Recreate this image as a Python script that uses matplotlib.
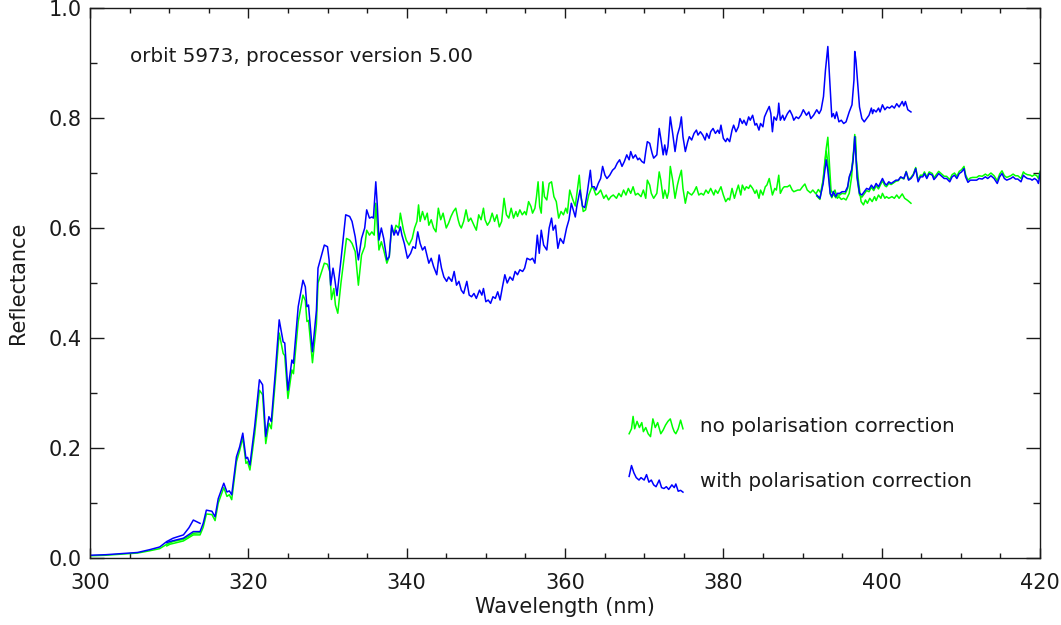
import numpy as np
import matplotlib
matplotlib.use("Agg")
import matplotlib.pyplot as plt
from matplotlib.ticker import MultipleLocator

# short channel at the start (300 - 314 nm)
wl_a = [300, 302, 304, 306, 307.5, 308.8, 309.7, 310.5, 311.8, 312.5, 313.05, 313.9]
blue_a = [0.005, 0.006, 0.008, 0.010, 0.015, 0.020, 0.030, 0.036, 0.042, 0.055, 0.069, 0.063]
green_a = [0.004, 0.005, 0.007, 0.009, 0.013, 0.017, 0.025, 0.030, 0.034, 0.040, 0.045, 0.046]

# main channel, with polarisation correction (309.7 - 403.7 nm)
wl_blue_b = [
    309.7, 310.1, 311.8, 313.05, 313.9, 314.3, 314.7, 315.4, 315.8, 316.2, 316.9, 317.3, 317.6, 317.9,
    318.5, 318.9, 319.3, 319.7, 319.9, 320.2, 320.8, 321.4, 321.8, 322.2, 322.6, 322.9, 323.4, 323.9,
    324.4, 324.6, 325.0, 325.5, 325.7, 326.3, 326.9, 327.2, 327.4, 327.6, 328.1, 328.6, 328.8, 329.6,
    330.0, 330.2, 330.4, 330.7, 330.9, 331.2, 331.7, 332.3, 332.8, 333.1, 333.5, 333.9, 334.3, 334.7,
    334.95, 335.3, 335.6, 335.8, 336.1, 336.3, 336.5, 336.8, 337.1, 337.5, 337.8, 338.1, 338.4, 338.65,
    338.9, 339.2, 339.4, 339.7, 340.1, 340.5, 340.8, 341.1, 341.4, 341.7, 342.0, 342.3, 342.5, 342.8,
    343.1, 343.4, 343.8, 344.1, 344.4, 344.7, 345.05, 345.3, 345.7, 346.0, 346.3, 346.6, 346.9, 347.2,
    347.6, 347.9, 348.2, 348.5, 348.8, 349.2, 349.5, 349.7, 350.0, 350.3, 350.6, 350.9, 351.2, 351.5,
    351.8, 352.1, 352.4, 352.7, 353.05, 353.4, 353.7, 354.0, 354.3, 354.65, 354.9, 355.2, 355.6, 355.9,
    356.2, 356.5, 356.75, 357.0, 357.3, 357.7, 358.0, 358.3, 358.5, 358.8, 359.1, 359.4, 359.8, 360.2,
    360.5, 360.8, 361.3, 361.5, 361.9, 362.2, 362.5, 362.8, 363.2, 363.4, 363.7, 363.9, 364.2, 364.5,
    364.75, 365.05, 365.3, 365.65, 366.0, 366.3, 366.6, 366.9, 367.2, 367.5, 367.8, 368.1, 368.3, 368.6,
    368.9, 369.2, 369.4, 369.7, 370.0, 370.2, 370.4, 370.7, 371.0, 371.2, 371.6, 371.9, 372.1, 372.4,
    372.6, 372.8, 373.0, 373.3, 373.6, 373.9, 374.2, 374.5, 374.7, 374.9, 375.2, 375.5, 375.7, 376.0,
    376.3, 376.6, 376.8, 377.1, 377.4, 377.7, 377.9, 378.2, 378.4, 378.7, 379.0, 379.3, 379.5, 379.7,
    380.0, 380.3, 380.5, 380.8, 381.1, 381.3, 381.6, 381.9, 382.1, 382.4, 382.6, 382.9, 383.2, 383.4,
    383.7, 384.0, 384.2, 384.5, 384.7, 385.0, 385.2, 385.5, 385.8, 386.0, 386.2, 386.4, 386.7, 386.9,
    387.0, 387.2, 387.5, 387.7, 388.1, 388.4, 388.7, 388.9, 389.2, 389.5, 389.8, 390.1, 390.5, 390.8,
    391.05, 391.4, 391.8, 392.1, 392.35, 392.65, 392.9, 393.2, 393.3, 393.5, 393.7, 393.9, 394.1, 394.3,
    394.6, 394.9, 395.2, 395.5, 395.9, 396.25, 396.5, 396.6, 396.75, 397.0, 397.2, 397.5, 397.8, 398.1,
    398.4, 398.7, 398.85, 399.0, 399.3, 399.6, 399.8, 400.1, 400.4, 400.7, 401.0, 401.3, 401.6, 401.9,
    402.2, 402.6, 402.8, 403.0, 403.3, 403.7]
blue_b = [
    0.028, 0.030, 0.036, 0.048, 0.048, 0.063, 0.087, 0.085, 0.075, 0.108, 0.136, 0.120, 0.122, 0.115,
    0.184, 0.202, 0.227, 0.181, 0.183, 0.169, 0.239, 0.324, 0.315, 0.221, 0.257, 0.248, 0.336, 0.433,
    0.393, 0.391, 0.305, 0.360, 0.354, 0.457, 0.505, 0.493, 0.457, 0.460, 0.375, 0.450, 0.527, 0.569,
    0.566, 0.542, 0.496, 0.527, 0.509, 0.477, 0.542, 0.624, 0.621, 0.612, 0.584, 0.542, 0.581, 0.600,
    0.633, 0.618, 0.620, 0.618, 0.684, 0.639, 0.578, 0.600, 0.581, 0.542, 0.548, 0.605, 0.587, 0.596,
    0.587, 0.602, 0.587, 0.572, 0.545, 0.554, 0.566, 0.563, 0.593, 0.572, 0.560, 0.566, 0.554, 0.536,
    0.545, 0.530, 0.515, 0.551, 0.527, 0.511, 0.503, 0.511, 0.503, 0.521, 0.496, 0.503, 0.487, 0.481,
    0.503, 0.478, 0.475, 0.481, 0.472, 0.487, 0.478, 0.490, 0.466, 0.469, 0.463, 0.475, 0.472, 0.484,
    0.469, 0.493, 0.515, 0.500, 0.511, 0.505, 0.521, 0.515, 0.524, 0.521, 0.527, 0.545, 0.542, 0.545,
    0.536, 0.587, 0.554, 0.596, 0.569, 0.560, 0.600, 0.618, 0.596, 0.605, 0.563, 0.581, 0.572, 0.600,
    0.615, 0.645, 0.620, 0.640, 0.669, 0.640, 0.637, 0.663, 0.705, 0.675, 0.675, 0.669, 0.681, 0.690,
    0.712, 0.696, 0.690, 0.696, 0.705, 0.709, 0.718, 0.724, 0.712, 0.721, 0.733, 0.724, 0.739, 0.727,
    0.733, 0.724, 0.727, 0.721, 0.718, 0.739, 0.757, 0.754, 0.736, 0.727, 0.733, 0.781, 0.763, 0.733,
    0.751, 0.733, 0.748, 0.802, 0.772, 0.739, 0.769, 0.784, 0.802, 0.766, 0.739, 0.757, 0.766, 0.760,
    0.772, 0.778, 0.769, 0.775, 0.769, 0.760, 0.772, 0.763, 0.775, 0.781, 0.772, 0.778, 0.772, 0.787,
    0.763, 0.757, 0.763, 0.757, 0.778, 0.787, 0.775, 0.784, 0.799, 0.790, 0.796, 0.787, 0.802, 0.796,
    0.805, 0.787, 0.790, 0.778, 0.790, 0.784, 0.802, 0.812, 0.821, 0.808, 0.775, 0.802, 0.796, 0.808,
    0.827, 0.796, 0.805, 0.796, 0.808, 0.814, 0.805, 0.796, 0.802, 0.799, 0.805, 0.815, 0.805, 0.811,
    0.799, 0.805, 0.815, 0.808, 0.815, 0.839, 0.887, 0.930, 0.905, 0.857, 0.802, 0.808, 0.799, 0.811,
    0.793, 0.796, 0.790, 0.793, 0.811, 0.824, 0.869, 0.921, 0.905, 0.857, 0.820, 0.799, 0.793, 0.799,
    0.805, 0.818, 0.808, 0.815, 0.811, 0.818, 0.811, 0.824, 0.815, 0.820, 0.818, 0.822, 0.818, 0.826,
    0.820, 0.830, 0.822, 0.830, 0.815, 0.811]

# main channel, no polarisation correction (309.7 - 403.7 nm)
wl_green_b = [
    309.7, 310.1, 311.8, 313.05, 313.9, 314.3, 314.7, 315.4, 315.8, 316.2, 316.9, 317.3, 317.6, 317.9,
    318.5, 318.9, 319.3, 319.7, 319.9, 320.2, 320.8, 321.4, 321.8, 322.2, 322.6, 322.9, 323.4, 323.9,
    324.4, 324.6, 325.0, 325.5, 325.7, 326.3, 326.9, 327.2, 327.4, 327.6, 328.1, 328.6, 328.8, 329.6,
    330.0, 330.3, 330.5, 330.8, 331.0, 331.3, 331.7, 332.4, 332.8, 333.1, 333.5, 333.9, 334.3, 334.7,
    334.95, 335.3, 335.6, 335.9, 336.1, 336.3, 336.5, 336.8, 337.1, 337.5, 337.8, 338.1, 338.4, 338.65,
    339.0, 339.2, 339.6, 339.95, 340.3, 340.7, 341.0, 341.3, 341.5, 341.7, 342.0, 342.3, 342.6, 342.8,
    343.1, 343.4, 343.7, 344.0, 344.3, 344.6, 345.0, 345.3, 345.6, 345.9, 346.2, 346.5, 346.7, 346.9,
    347.2, 347.5, 347.8, 348.1, 348.5, 348.8, 349.1, 349.4, 349.7, 349.9, 350.2, 350.5, 350.8, 351.1,
    351.4, 351.7, 352.0, 352.3, 352.6, 352.9, 353.2, 353.5, 353.8, 354.0, 354.3, 354.6, 354.9, 355.1,
    355.4, 355.7, 355.9, 356.2, 356.4, 356.6, 356.8, 357.0, 357.2, 357.4, 357.7, 358.0, 358.3, 358.6,
    358.9, 359.2, 359.5, 359.8, 360.1, 360.3, 360.6, 361.0, 361.3, 361.8, 362.0, 362.3, 362.6, 363.0,
    363.4, 363.6, 363.9, 364.2, 364.5, 364.9, 365.2, 365.5, 365.8, 366.1, 366.5, 366.8, 367.1, 367.4,
    367.7, 368.0, 368.3, 368.6, 368.9, 369.2, 369.6, 369.9, 370.2, 370.4, 370.7, 370.9, 371.2, 371.6,
    371.9, 372.1, 372.4, 372.6, 372.9, 373.1, 373.3, 373.6, 373.9, 374.2, 374.4, 374.7, 374.9, 375.2,
    375.5, 375.7, 376.0, 376.3, 376.6, 376.9, 377.2, 377.5, 377.8, 378.1, 378.4, 378.8, 379.0, 379.3,
    379.7, 380.0, 380.3, 380.6, 380.8, 381.1, 381.4, 381.7, 381.9, 382.2, 382.4, 382.7, 382.9, 383.2,
    383.4, 383.7, 384.0, 384.2, 384.5, 384.7, 385.0, 385.3, 385.5, 385.8, 386.0, 386.2, 386.5, 386.7,
    387.0, 387.2, 387.5, 387.7, 388.1, 388.4, 388.7, 388.9, 389.4, 389.7, 390.0, 390.3, 390.6, 391.0,
    391.3, 391.7, 392.0, 392.3, 392.6, 392.8, 393.0, 393.2, 393.4, 393.6, 393.8, 394.1, 394.4, 394.6,
    394.9, 395.2, 395.5, 395.9, 396.2, 396.4, 396.7, 396.8, 397.1, 397.4, 397.7, 397.95, 398.2, 398.5,
    398.8, 399.1, 399.3, 399.6, 399.9, 400.1, 400.4, 400.6, 400.9, 401.3, 401.6, 401.9, 402.2, 402.6,
    402.9, 403.3, 403.7]
green_b = [
    0.022, 0.025, 0.031, 0.042, 0.042, 0.056, 0.080, 0.079, 0.068, 0.100, 0.128, 0.112, 0.115, 0.106,
    0.175, 0.195, 0.219, 0.172, 0.175, 0.160, 0.225, 0.305, 0.297, 0.208, 0.245, 0.235, 0.320, 0.409,
    0.372, 0.368, 0.290, 0.342, 0.335, 0.430, 0.478, 0.468, 0.430, 0.432, 0.355, 0.425, 0.500, 0.536,
    0.534, 0.520, 0.470, 0.490, 0.460, 0.445, 0.500, 0.581, 0.578, 0.572, 0.557, 0.496, 0.551, 0.566,
    0.596, 0.587, 0.593, 0.587, 0.645, 0.602, 0.560, 0.575, 0.560, 0.536, 0.548, 0.600, 0.590, 0.605,
    0.600, 0.627, 0.596, 0.578, 0.569, 0.581, 0.600, 0.612, 0.642, 0.612, 0.630, 0.615, 0.627, 0.605,
    0.615, 0.600, 0.593, 0.636, 0.615, 0.627, 0.600, 0.609, 0.621, 0.630, 0.636, 0.615, 0.605, 0.600,
    0.612, 0.633, 0.612, 0.618, 0.605, 0.596, 0.624, 0.615, 0.636, 0.615, 0.605, 0.612, 0.627, 0.612,
    0.624, 0.602, 0.612, 0.654, 0.624, 0.618, 0.636, 0.618, 0.630, 0.621, 0.633, 0.624, 0.630, 0.624,
    0.648, 0.639, 0.627, 0.636, 0.657, 0.684, 0.639, 0.627, 0.684, 0.657, 0.651, 0.681, 0.684, 0.657,
    0.648, 0.618, 0.630, 0.624, 0.636, 0.627, 0.669, 0.651, 0.640, 0.696, 0.660, 0.630, 0.633, 0.660,
    0.675, 0.672, 0.660, 0.663, 0.669, 0.654, 0.660, 0.651, 0.657, 0.660, 0.654, 0.663, 0.657, 0.669,
    0.660, 0.672, 0.663, 0.675, 0.660, 0.663, 0.657, 0.669, 0.654, 0.687, 0.678, 0.663, 0.654, 0.663,
    0.702, 0.687, 0.654, 0.669, 0.654, 0.666, 0.712, 0.687, 0.654, 0.678, 0.690, 0.705, 0.672, 0.645,
    0.666, 0.663, 0.660, 0.666, 0.675, 0.660, 0.663, 0.660, 0.669, 0.663, 0.672, 0.660, 0.669, 0.663,
    0.675, 0.660, 0.648, 0.654, 0.651, 0.672, 0.654, 0.669, 0.678, 0.660, 0.678, 0.669, 0.675, 0.672,
    0.678, 0.672, 0.663, 0.669, 0.654, 0.669, 0.660, 0.675, 0.678, 0.690, 0.675, 0.660, 0.672, 0.669,
    0.696, 0.663, 0.672, 0.675, 0.675, 0.678, 0.669, 0.666, 0.669, 0.669, 0.675, 0.680, 0.669, 0.664,
    0.669, 0.662, 0.670, 0.664, 0.687, 0.718, 0.745, 0.765, 0.718, 0.669, 0.663, 0.669, 0.654, 0.657,
    0.652, 0.654, 0.651, 0.663, 0.693, 0.730, 0.766, 0.724, 0.681, 0.648, 0.642, 0.651, 0.645, 0.654,
    0.648, 0.657, 0.650, 0.660, 0.654, 0.663, 0.654, 0.657, 0.654, 0.657, 0.654, 0.660, 0.654, 0.662,
    0.654, 0.650, 0.645]

# second channel (391.8 - 420 nm)
wl_c = [
    391.8, 392.2, 392.6, 393.0, 393.2, 393.5, 393.7, 393.9, 394.2, 394.4, 394.7, 395.0, 395.4, 395.7,
    395.9, 396.2, 396.4, 396.6, 396.75, 396.9, 397.2, 397.5, 397.8, 398.1, 398.4, 398.7, 399.0, 399.3,
    399.6, 399.9, 400.1, 400.4, 400.6, 400.9, 401.2, 401.5, 401.8, 402.1, 402.4, 402.8, 403.1, 403.4,
    403.7, 404.0, 404.3, 404.6, 404.9, 405.2, 405.4, 405.7, 406.0, 406.4, 406.6, 406.9, 407.2, 407.9,
    408.2, 408.6, 408.9, 409.2, 409.5, 409.8, 410.1, 410.4, 410.6, 410.9, 411.2, 411.5, 412.0, 412.3,
    412.7, 413.1, 413.4, 413.8, 414.2, 414.6, 414.9, 415.2, 415.5, 415.8, 416.3, 416.6, 416.9, 417.2,
    417.6, 417.9, 418.1, 418.4, 418.8, 419.0, 419.3, 419.6, 419.8, 420.0]
blue_c = [
    0.660, 0.654, 0.680, 0.724, 0.705, 0.663, 0.657, 0.666, 0.657, 0.663, 0.663, 0.666, 0.666, 0.675,
    0.693, 0.705, 0.724, 0.766, 0.730, 0.693, 0.663, 0.660, 0.666, 0.672, 0.670, 0.678, 0.672, 0.681,
    0.675, 0.684, 0.690, 0.681, 0.678, 0.684, 0.681, 0.684, 0.687, 0.687, 0.693, 0.690, 0.702, 0.687,
    0.690, 0.696, 0.708, 0.684, 0.693, 0.693, 0.699, 0.690, 0.699, 0.696, 0.688, 0.693, 0.699, 0.690,
    0.690, 0.684, 0.693, 0.696, 0.690, 0.699, 0.702, 0.708, 0.693, 0.683, 0.687, 0.687, 0.687, 0.690,
    0.689, 0.693, 0.690, 0.695, 0.690, 0.681, 0.693, 0.699, 0.690, 0.687, 0.690, 0.693, 0.689, 0.689,
    0.684, 0.696, 0.693, 0.690, 0.689, 0.687, 0.690, 0.687, 0.681, 0.698]
green_c = [
    0.658, 0.652, 0.685, 0.740, 0.720, 0.662, 0.655, 0.662, 0.655, 0.660, 0.660, 0.663, 0.662, 0.672,
    0.690, 0.705, 0.730, 0.770, 0.735, 0.690, 0.660, 0.656, 0.662, 0.668, 0.666, 0.674, 0.668, 0.677,
    0.671, 0.680, 0.686, 0.677, 0.675, 0.681, 0.679, 0.682, 0.685, 0.686, 0.692, 0.689, 0.703, 0.688,
    0.692, 0.698, 0.710, 0.687, 0.696, 0.696, 0.702, 0.693, 0.702, 0.699, 0.691, 0.697, 0.703, 0.694,
    0.694, 0.688, 0.697, 0.700, 0.694, 0.703, 0.706, 0.712, 0.697, 0.687, 0.691, 0.692, 0.692, 0.695,
    0.694, 0.698, 0.695, 0.700, 0.695, 0.686, 0.698, 0.704, 0.695, 0.692, 0.695, 0.698, 0.695, 0.695,
    0.690, 0.702, 0.699, 0.697, 0.696, 0.694, 0.697, 0.695, 0.690, 0.703]

labels = ["no polarisation correction", "with polarisation correction"]
note = "orbit 5973, processor version 5.00"

green = "#00ff00"
blue = "#0000ff"
ink = "#1a1a1a"
lw = 1.1

plt.rcParams['font.family'] = ['DejaVu Sans']
fig = plt.figure(figsize=(10.61, 6.25), dpi=100)
ax = fig.add_axes([90 / 1061, 67 / 625, 950 / 1061, 550 / 625])

# green first, blue on top
ax.plot(wl_a, green_a, color=green, lw=lw)
ax.plot(wl_green_b, green_b, color=green, lw=lw)
ax.plot(wl_c, green_c, color=green, lw=lw)
ax.plot(wl_a, blue_a, color=blue, lw=lw)
ax.plot(wl_blue_b, blue_b, color=blue, lw=lw)
ax.plot(wl_c, blue_c, color=blue, lw=lw)


def legend_sample(wl, vals, lo, hi, x0, y0, scale):
    wl = np.asarray(wl)
    vals = np.asarray(vals)
    m = (wl >= lo) & (wl <= hi)
    return x0 + (wl[m] - lo), y0 + scale * (vals[m] - vals[m].mean())


# legend: jagged snippets of the data, like the original
gx, gy = legend_sample(wl_green_b, green_b, 341.0, 347.8, 368.1, 0.238, 0.75)
bx, by = legend_sample(wl_blue_b, blue_b, 343.8, 350.6, 368.1, 0.137, 0.55)
ax.plot(gx, gy, color=green, lw=lw)
ax.plot(bx, by, color=blue, lw=lw)
ax.text(377.0, 0.240, labels[0], fontsize=14.3, va="center", ha="left", color=ink)
ax.text(377.0, 0.139, labels[1], fontsize=14.3, va="center", ha="left", color=ink)

ax.text(305.0, 0.911, note, fontsize=14.3, va="center", ha="left", color=ink)

ax.set_xlim(300, 420)
ax.set_ylim(0, 1.0)
ax.xaxis.set_major_locator(MultipleLocator(20))
ax.xaxis.set_minor_locator(MultipleLocator(5))
ax.yaxis.set_major_locator(MultipleLocator(0.2))
ax.yaxis.set_minor_locator(MultipleLocator(0.1))
ax.yaxis.set_major_formatter(plt.FuncFormatter(lambda v, p: "%.1f" % v))

ax.tick_params(which="both", direction="in", top=True, right=True, width=1, colors=ink, labelsize=15)
ax.tick_params(axis="x", which="major", length=7.5, pad=11)
ax.tick_params(axis="x", which="minor", length=3.8)
ax.tick_params(axis="y", which="major", length=10, pad=6)
ax.tick_params(axis="y", which="minor", length=5)
for s in ax.spines.values():
    s.set_linewidth(1)
    s.set_color(ink)

ax.set_xlabel("Wavelength (nm)", fontsize=15, labelpad=3, color=ink)
ax.set_ylabel("Reflectance", fontsize=15, labelpad=15, color=ink)

fig.savefig("out.png", dpi=100)
